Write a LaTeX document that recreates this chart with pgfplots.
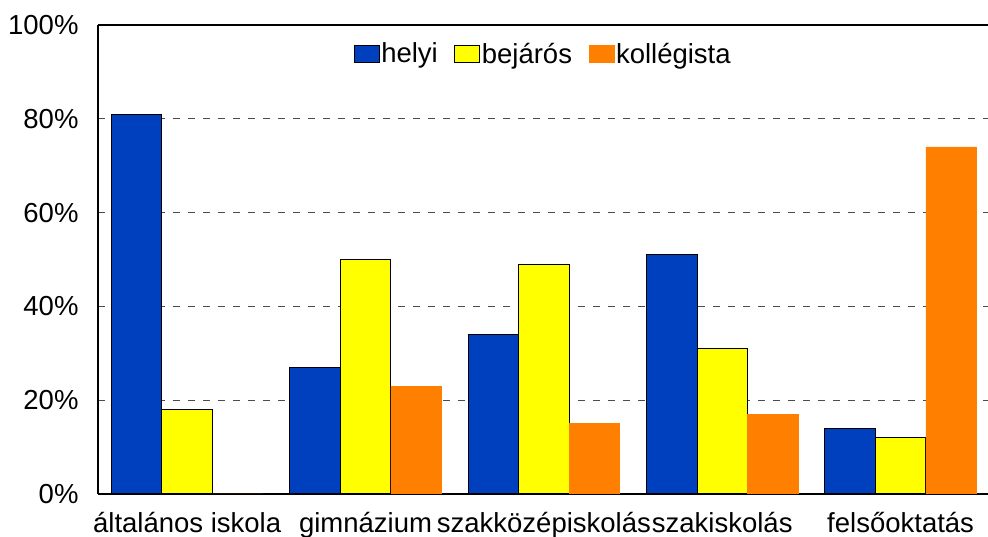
\documentclass[border=0pt]{standalone}
\usepackage{pgfplots}
\pgfplotsset{compat=1.18}
\usepackage{fontspec}
\setmainfont{Liberation Sans}
\definecolor{cblue}{RGB}{0,64,190}
\definecolor{cyellow}{RGB}{255,255,0}
\definecolor{corange}{RGB}{255,128,0}
\newcommand{\bigf}{\fontsize{27.5}{31}\selectfont}
\begin{document}
\begin{tikzpicture}
\path[use as bounding box] (-98pt,-43pt) rectangle (890pt,494pt);
\begin{axis}[
  at={(0pt,0pt)}, anchor=south west,
  scale only axis,
  width=890pt, height=469pt,
  xmin=-0.5, xmax=4.49,
  ymin=0, ymax=100,
  axis lines*=left,
  axis line style={line width=1.2pt},
  ybar=0pt,
  bar width=50.5pt,
  xtick={0,1,2,3,4},
  xticklabels={általános iskola,gimnázium,szakközépiskolás,szakiskolás,felsőoktatás},
  ytick={0,20,40,60,80,100},
  yticklabels={0\%,20\%,40\%,60\%,80\%,100\%},
  major tick length=0pt,
  ymajorgrids,
  grid style={dash pattern=on 7pt off 8pt, black!70, line width=1pt},
  yticklabel style={font=\bigf, anchor=east, xshift=-16pt},
  xticklabel style={font=\bigf, anchor=base, yshift=-39pt},
  legend style={at={(0.5,0.97)}, anchor=north, draw=none, fill=none,
    font=\bigf, legend columns=3,
    /tikz/every even column/.append style={column sep=15pt},
    nodes={inner sep=1.5pt}},
  legend image code/.code={\draw[#1, line width=1pt] (0pt,-8.5pt) rectangle (25pt,8.5pt);},
]
\addplot[fill=cblue, draw=black, line width=1pt] coordinates {(0,81) (1,27) (2,34) (3,51) (4,14)};
\addplot[fill=cyellow, draw=black, line width=1pt] coordinates {(0,18) (1,50) (2,49) (3,31) (4,12)};
\addplot[fill=corange, draw=corange, line width=0.5pt] coordinates {(0,0) (1,23) (2,15) (3,17) (4,74)};
\legend{helyi,bejárós,kollégista}
\draw[line width=1.2pt] (rel axis cs:0,1) -- (rel axis cs:1,1);
\end{axis}
\end{tikzpicture}
\end{document}
